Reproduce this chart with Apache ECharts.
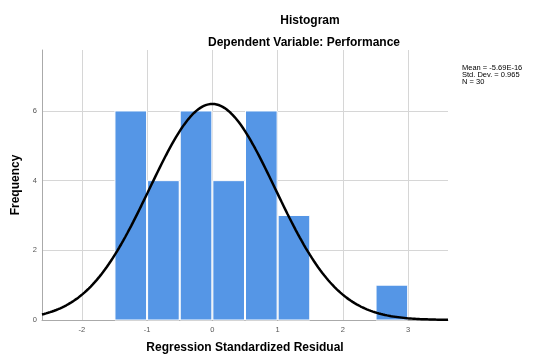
<!DOCTYPE html>
<html>
<head>
<meta charset="utf-8">
<script src="https://cdn.jsdelivr.net/npm/echarts@6/dist/echarts.min.js"></script>
<style>html,body{margin:0;padding:0;background:#fff;}#c{width:533px;height:354px;}</style>
</head>
<body>
<div id="c"></div>
<script>
// Data
var binStarts = [-1.5, -1.0, -0.5, 0.0, 0.5, 1.0, 2.5];
var counts = [6, 4, 6, 4, 6, 3, 1];
var binWidth = 0.5;
var xTicks = [-2, -1, 0, 1, 2, 3];
var yTicks = [0, 2, 4, 6];
var statMean = -5.69e-16;
var statSD = 0.965;
var statN = 30;
var statLines = ['Mean = -5.69E-16', 'Std. Dev. = 0.965', 'N = 30'];

var xMin = -2.61, xMax = 3.61;
var FONT = 'Liberation Sans';

// Fitted normal curve from the chart's own stated statistics
var curve = [];
for (var i = 0; i <= 200; i++) {
  var x = xMin + (xMax - xMin) * i / 200;
  var z = (x - statMean) / statSD;
  var y = statN * binWidth * Math.exp(-0.5 * z * z) / (statSD * Math.sqrt(2 * Math.PI));
  curve.push([x, y]);
}

var barData = binStarts.map(function (s, i) { return [s, s + binWidth, counts[i]]; });

var chart = echarts.init(document.getElementById('c'));
chart.setOption({
  animation: false,
  title: [
    { text: 'Histogram', left: 305, top: 10, textAlign: 'center',
      textStyle: { fontSize: 12, fontWeight: 'bold', color: '#000', fontFamily: FONT } },
    { text: 'Dependent Variable: Performance', left: 299, top: 32, textAlign: 'center',
      textStyle: { fontSize: 12, fontWeight: 'bold', color: '#000', fontFamily: FONT } }
  ],
  graphic: [{
    type: 'text', left: 462, top: 64,
    style: { text: statLines.join('\n'), fontSize: 7.5, lineHeight: 7, fill: '#000', fontFamily: FONT }
  }],
  grid: { left: 42, right: 85, top: 50, bottom: 34, containLabel: false, outerBoundsMode: 'none' },
  xAxis: {
    type: 'value', min: xMin, max: xMax,
    name: 'Regression Standardized Residual', nameLocation: 'middle', nameGap: 22,
    nameTextStyle: { fontSize: 12, fontWeight: 'bold', color: '#000', fontFamily: FONT },
    axisLine: { show: true, onZero: false, lineStyle: { color: '#aaa', width: 1 } },
    axisTick: { show: false, customValues: xTicks },
    axisLabel: { customValues: xTicks, fontSize: 7.5, color: '#555', margin: 6, fontFamily: FONT,
      formatter: function (v) { return String(v); } },
    splitLine: { show: true, lineStyle: { color: '#d6d6d6', width: 1 } }
  },
  yAxis: {
    type: 'value', min: 0, max: 7.75,
    name: 'Frequency', nameLocation: 'middle', nameGap: 14, nameRotate: 90,
    nameTextStyle: { fontSize: 12, fontWeight: 'bold', color: '#000', fontFamily: FONT },
    axisLine: { show: true, onZero: false, lineStyle: { color: '#aaa', width: 1 } },
    axisTick: { show: false, customValues: yTicks },
    axisLabel: { customValues: yTicks, fontSize: 7.5, color: '#555', margin: 5, fontFamily: FONT },
    splitLine: { show: true, lineStyle: { color: '#d6d6d6', width: 1 } }
  },
  series: [
    {
      type: 'custom',
      data: barData,
      renderItem: function (params, api) {
        var p0 = api.coord([api.value(0), api.value(2)]);
        var p1 = api.coord([api.value(1), 0]);
        return {
          type: 'rect',
          shape: { x: p0[0] + 0.5, y: p0[1], width: p1[0] - p0[0] - 1, height: p1[1] - p0[1] },
          style: { fill: '#5596e6', stroke: '#ffffff', lineWidth: 1 }
        };
      },
      encode: { x: [0, 1], y: 2 },
      z: 2
    },
    {
      type: 'line', data: curve, showSymbol: false, symbol: 'none', smooth: false,
      lineStyle: { color: '#000', width: 2.5 }, z: 3, clip: true
    }
  ]
});
</script>
</body>
</html>
